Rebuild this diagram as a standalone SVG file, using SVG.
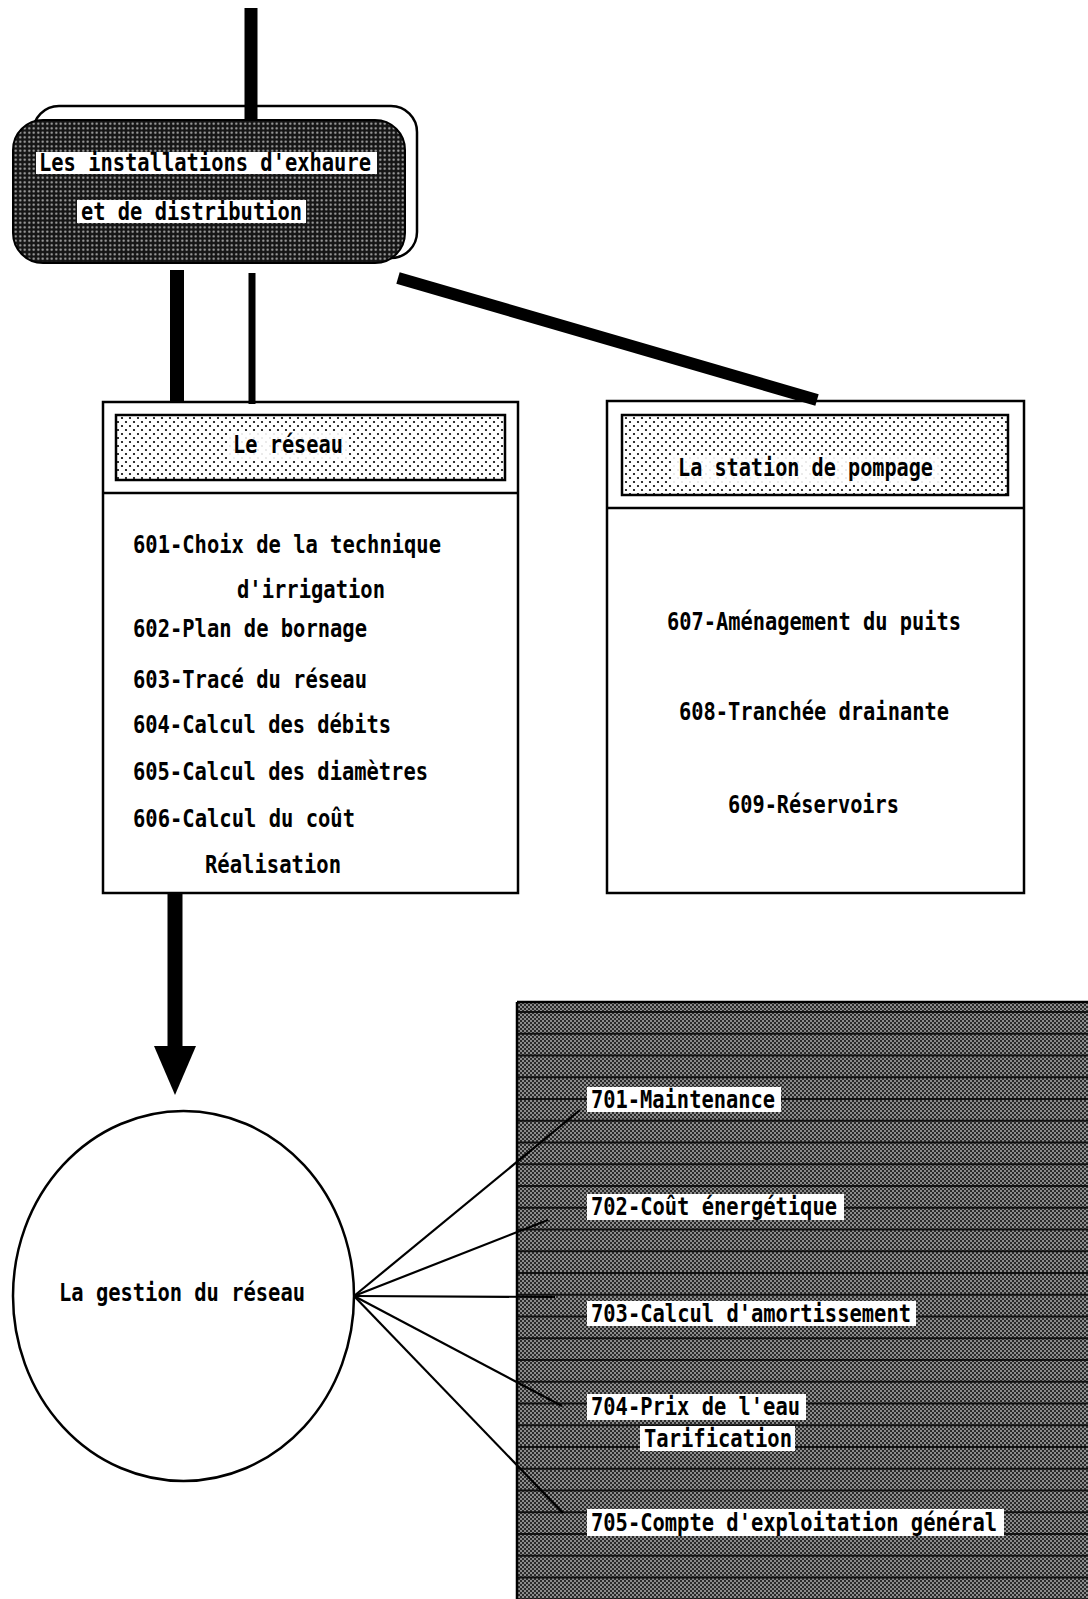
<svg xmlns="http://www.w3.org/2000/svg" width="1088" height="1599" viewBox="0 0 1088 1599">
<defs>
<pattern id="lightdots" patternUnits="userSpaceOnUse" width="8" height="8">
<rect width="8" height="8" fill="#fff"/>
<circle cx="2" cy="2" r="1.1" fill="#000"/>
<circle cx="6" cy="6" r="1.1" fill="#000"/>
</pattern>
<pattern id="darkdots" patternUnits="userSpaceOnUse" width="4.5" height="4.5">
<rect width="4.5" height="4.5" fill="#151515"/>
<circle cx="2.25" cy="2.25" r="1.1" fill="#b0b0b0"/>
</pattern>
<pattern id="checker" patternUnits="userSpaceOnUse" width="4" height="4">
<rect width="4" height="4" fill="#8c8c8c"/>
<rect x="0" y="0" width="2" height="2" fill="#2a2a2a"/>
<rect x="2" y="2" width="2" height="2" fill="#2a2a2a"/>
</pattern>
<pattern id="hlines" patternUnits="userSpaceOnUse" x="0" y="1011" width="10" height="21.75">
<rect width="10" height="2" fill="#111"/>
</pattern>
</defs>
<style>
text{font-family:"DejaVu Sans Mono","Liberation Mono",monospace;font-weight:bold;font-size:25px;fill:#000}
.thick{stroke:#000;fill:none}
.thin{stroke:#000;stroke-width:2.2;fill:none}
.box{fill:#fff;stroke:#000;stroke-width:2.5}
.hdr{fill:url(#lightdots);stroke:#000;stroke-width:2.5}
.wbg{fill:#fff}
</style>
<rect width="1088" height="1599" fill="#fff"/>

<g id="node-installations">
<rect x="33" y="106" width="384" height="152" rx="26" class="box"/>
<rect x="13" y="120" width="392" height="143" rx="30" fill="url(#darkdots)" stroke="#000" stroke-width="2"/>
<rect x="36" y="152" width="341" height="22" class="wbg"/>
<rect x="77" y="200" width="229" height="23" class="wbg"/>
<text x="39" y="171" textLength="332" lengthAdjust="spacingAndGlyphs">Les installations d'exhaure</text>
<text x="81" y="220" textLength="221" lengthAdjust="spacingAndGlyphs">et de distribution</text>
</g>

<g id="node-reseau">
<rect x="103" y="402" width="415" height="491" class="box"/>
<rect x="116" y="415" width="389" height="65" class="hdr"/>
<rect x="227" y="432" width="122" height="28" class="wbg" opacity="0.9"/>
<line x1="103" y1="493" x2="518" y2="493" stroke="#000" stroke-width="2.5"/>
<text x="233" y="453" textLength="110" lengthAdjust="spacingAndGlyphs">Le réseau</text>
<text x="133" y="553" textLength="308" lengthAdjust="spacingAndGlyphs">601-Choix de la technique</text>
<text x="237" y="598" textLength="148" lengthAdjust="spacingAndGlyphs">d'irrigation</text>
<text x="133" y="637" textLength="234" lengthAdjust="spacingAndGlyphs">602-Plan de bornage</text>
<text x="133" y="688" textLength="234" lengthAdjust="spacingAndGlyphs">603-Tracé du réseau</text>
<text x="133" y="733" textLength="258" lengthAdjust="spacingAndGlyphs">604-Calcul des débits</text>
<text x="133" y="780" textLength="295" lengthAdjust="spacingAndGlyphs">605-Calcul des diamètres</text>
<text x="133" y="827" textLength="222" lengthAdjust="spacingAndGlyphs">606-Calcul du coût</text>
<text x="205" y="873" textLength="136" lengthAdjust="spacingAndGlyphs">Réalisation</text>
</g>

<g id="node-station">
<rect x="607" y="401" width="417" height="492" class="box"/>
<rect x="622" y="415" width="386" height="80" class="hdr"/>
<rect x="672" y="455" width="267" height="28" class="wbg" opacity="0.9"/>
<line x1="607" y1="508" x2="1024" y2="508" stroke="#000" stroke-width="2.5"/>
<text x="678" y="476" textLength="255" lengthAdjust="spacingAndGlyphs">La station de pompage</text>
<text x="667" y="630" textLength="294" lengthAdjust="spacingAndGlyphs">607-Aménagement du puits</text>
<text x="679" y="720" textLength="270" lengthAdjust="spacingAndGlyphs">608-Tranchée drainante</text>
<text x="728" y="813" textLength="171" lengthAdjust="spacingAndGlyphs">609-Réservoirs</text>
</g>

<g id="node-gestion">
<ellipse cx="183.5" cy="1296" rx="170.5" ry="185" fill="#fff" stroke="#000" stroke-width="2.5"/>
<text x="59" y="1301" textLength="246" lengthAdjust="spacingAndGlyphs">La gestion du réseau</text>
</g>

<g id="node-gestion-items">
<rect x="517" y="1002" width="571" height="597" fill="url(#checker)"/>
<rect x="517" y="1002" width="571" height="597" fill="url(#hlines)"/>
<line x1="517" y1="1002" x2="1088" y2="1002" stroke="#000" stroke-width="2.5"/>
<line x1="517" y1="1002" x2="517" y2="1599" stroke="#000" stroke-width="2.5"/>
<rect x="587" y="1087" width="194" height="25" class="wbg"/>
<text x="591" y="1108" textLength="184" lengthAdjust="spacingAndGlyphs">701-Maintenance</text>
<rect x="587" y="1194" width="257" height="26" class="wbg"/>
<text x="591" y="1215" textLength="246" lengthAdjust="spacingAndGlyphs">702-Coût énergétique</text>
<rect x="587" y="1301" width="329" height="25" class="wbg"/>
<text x="591" y="1322" textLength="320" lengthAdjust="spacingAndGlyphs">703-Calcul d'amortissement</text>
<rect x="587" y="1394" width="219" height="26" class="wbg"/>
<text x="591" y="1415" textLength="209" lengthAdjust="spacingAndGlyphs">704-Prix de l'eau</text>
<rect x="640" y="1426" width="155" height="25" class="wbg"/>
<text x="644" y="1447" textLength="148" lengthAdjust="spacingAndGlyphs">Tarification</text>
<rect x="587" y="1509" width="417" height="27" class="wbg"/>
<text x="591" y="1531" textLength="406" lengthAdjust="spacingAndGlyphs">705-Compte d'exploitation général</text>
</g>

<g id="connectors">
<line class="thick" x1="251" y1="8" x2="251" y2="120" stroke-width="13"/>
<line class="thick" x1="177" y1="270" x2="177" y2="402" stroke-width="14"/>
<line class="thick" x1="252" y1="273" x2="252" y2="404" stroke-width="7"/>
<line class="thick" x1="398" y1="278" x2="817" y2="400" stroke-width="12"/>
<line class="thick" x1="175" y1="894" x2="175" y2="1048" stroke-width="15"/>
<polygon points="154,1046 196,1046 175,1095" fill="#000"/>
<line class="thin" x1="354" y1="1296" x2="580" y2="1110"/>
<line class="thin" x1="354" y1="1296" x2="548" y2="1220"/>
<line class="thin" x1="354" y1="1296" x2="555" y2="1297"/>
<line class="thin" x1="354" y1="1296" x2="562" y2="1406"/>
<line class="thin" x1="354" y1="1296" x2="563" y2="1513"/>
</g>
</svg>
